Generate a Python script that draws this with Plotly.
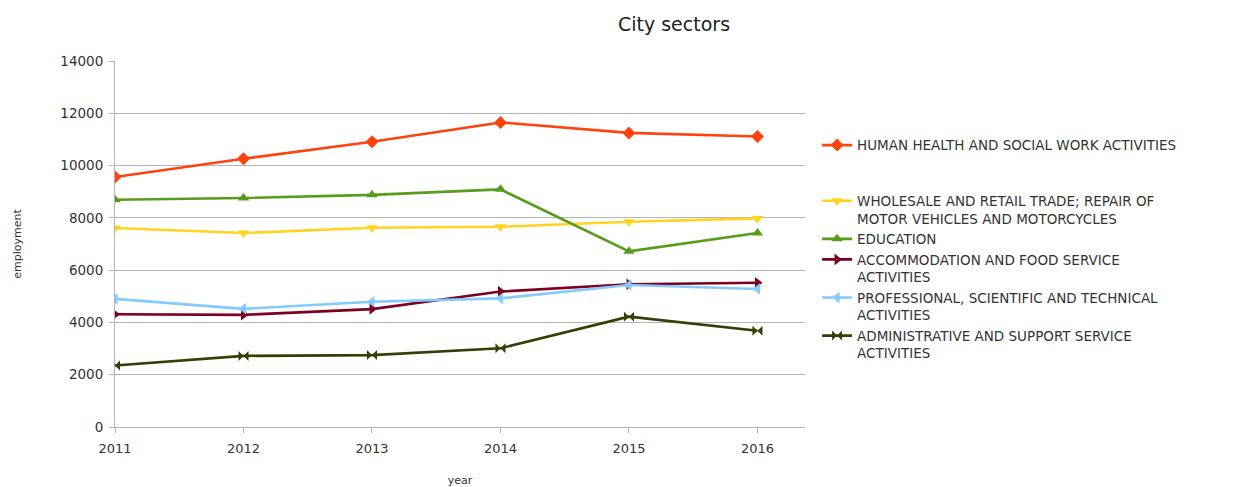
import plotly.graph_objects as go

years = [2011, 2012, 2013, 2014, 2015, 2016]
year_labels = ["2011", "2012", "2013", "2014", "2015", "2016"]
y_ticks = [0, 2000, 4000, 6000, 8000, 10000, 12000, 14000]
y_tick_labels = ["0", "2000", "4000", "6000", "8000", "10000", "12000", "14000"]

series_names = [
    "HUMAN HEALTH AND SOCIAL WORK ACTIVITIES<br> <br> ",
    "WHOLESALE AND RETAIL TRADE; REPAIR OF<br>MOTOR VEHICLES AND MOTORCYCLES",
    "EDUCATION",
    "ACCOMMODATION AND FOOD SERVICE<br>ACTIVITIES",
    "PROFESSIONAL, SCIENTIFIC AND TECHNICAL<br>ACTIVITIES",
    "ADMINISTRATIVE AND SUPPORT SERVICE<br>ACTIVITIES",
]

human_health = [9560, 10260, 10910, 11650, 11250, 11110]
wholesale = [7610, 7420, 7620, 7660, 7850, 7980]
education = [8690, 8760, 8880, 9090, 6720, 7420]
accommodation = [4310, 4290, 4510, 5180, 5460, 5520]
professional = [4900, 4520, 4790, 4920, 5430, 5280]
administrative = [2350, 2720, 2750, 3010, 4220, 3680]

series_values = [human_health, wholesale, education, accommodation, professional, administrative]
colors = ["#ff420e", "#ffd320", "#579d1c", "#7e0021", "#83caff", "#314004"]
symbols = ["diamond", "triangle-down", "triangle-up", "triangle-right", "triangle-left", "bowtie"]

fig = go.Figure()
for name, vals, c, s in zip(series_names, series_values, colors, symbols):
    fig.add_trace(go.Scatter(
        x=years, y=vals, name=name, mode="lines+markers",
        line=dict(color=c, width=2.6),
        marker=dict(symbol=s, size=10, color=c),
    ))

font_family = "DejaVu Sans, Liberation Sans, sans-serif"
fig.update_layout(
    width=1258, height=487,
    margin=dict(l=115, r=453, t=61, b=60),
    paper_bgcolor="white", plot_bgcolor="white",
    font=dict(family=font_family, size=13, color="#333333"),
    title=dict(text="City sectors", x=674/1258, xanchor="center", y=1 - 24/487, yanchor="middle",
               font=dict(size=19, color="#222222")),
    legend=dict(x=1.0175, xanchor="left", y=0.812, yanchor="top", valign="top",
                font=dict(size=13.5, color="#333333"), bgcolor="rgba(0,0,0,0)"),
    xaxis=dict(range=[2011, 2016.37], tickvals=years, ticktext=year_labels,
               showgrid=False, zeroline=False, showline=True, linecolor="#b3b3b3", linewidth=1,
               ticks="outside", ticklen=5, tickcolor="#b3b3b3", automargin=False,
               ticklabelstandoff=4,
               title=dict(text="year", font=dict(size=11), standoff=26),
               tickfont=dict(size=13)),
    yaxis=dict(range=[0, 14000], tickvals=y_ticks, ticktext=y_tick_labels,
               showgrid=True, gridcolor="#b3b3b3", gridwidth=1, zeroline=False,
               showline=True, linecolor="#b3b3b3", linewidth=1,
               ticks="outside", ticklen=5, tickcolor="#b3b3b3", automargin=False,
               ticklabelstandoff=3,
               title=dict(text="employment", font=dict(size=11), standoff=36),
               tickfont=dict(size=13.5)),
)

fig.write_html("out.html")
